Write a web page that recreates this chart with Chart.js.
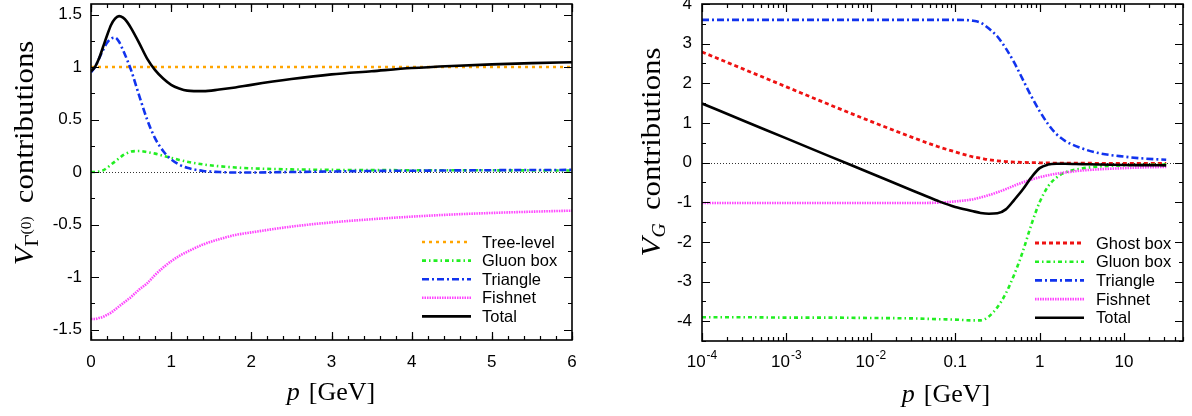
<!DOCTYPE html>
<html>
<head>
<meta charset="utf-8">
<script src="https://cdn.jsdelivr.net/npm/chart.js@4.4.0/dist/chart.umd.min.js"></script>
<style>
  html, body { margin: 0; padding: 0; background: #fff; }
  #wrap { position: relative; width: 1192px; height: 416px; }
  .panel { position: absolute; top: 0; width: 596px; height: 416px; }
</style>
</head>
<body>
<div id="wrap">
  <div class="panel" style="left:0"><canvas id="left" width="596" height="416"></canvas></div>
  <div class="panel" style="left:596px"><canvas id="right" width="596" height="416"></canvas></div>
</div>
<script>
// ---- left panel: V_Gamma(0) contributions, linear p axis ----
var pLeft = [0, 0.05, 0.1, 0.15, 0.2, 0.25, 0.3, 0.35, 0.4, 0.45, 0.5, 0.6, 0.7, 0.8, 0.9, 1.0, 1.1, 1.2, 1.4, 1.6, 1.8, 2.0, 2.5, 3, 3.5, 4, 4.5, 5, 5.5, 6];
var treeLevel = [1, 1, 1, 1, 1, 1, 1, 1, 1, 1, 1, 1, 1, 1, 1, 1, 1, 1, 1, 1, 1, 1, 1, 1, 1, 1, 1, 1, 1, 1];
var gluonLeft = [0, 0, 0.005, 0.015, 0.04, 0.07, 0.1, 0.13, 0.16, 0.18, 0.195, 0.2, 0.19, 0.175, 0.155, 0.135, 0.115, 0.098, 0.072, 0.055, 0.043, 0.035, 0.025, 0.02, 0.018, 0.017, 0.016, 0.016, 0.015, 0.015];
var triangleLeft = [0.95, 1.0, 1.08, 1.16, 1.23, 1.27, 1.28, 1.24, 1.16, 1.07, 0.97, 0.73, 0.5, 0.32, 0.2, 0.12, 0.07, 0.04, 0.01, 0.0, -0.005, -0.005, 0.0, 0.005, 0.01, 0.012, 0.015, 0.017, 0.019, 0.02];
var fishnetLeft = [-1.40, -1.40, -1.39, -1.38, -1.36, -1.34, -1.31, -1.28, -1.25, -1.22, -1.19, -1.12, -1.06, -0.98, -0.91, -0.85, -0.8, -0.76, -0.69, -0.64, -0.6, -0.575, -0.52, -0.48, -0.45, -0.425, -0.405, -0.39, -0.378, -0.368];
var totalLeft = [0.96, 1.0, 1.08, 1.19, 1.3, 1.4, 1.46, 1.485, 1.47, 1.43, 1.37, 1.23, 1.08, 0.97, 0.89, 0.83, 0.795, 0.775, 0.77, 0.785, 0.805, 0.83, 0.885, 0.93, 0.96, 0.99, 1.01, 1.025, 1.037, 1.045];
var xTicksLeft = [0, 1, 2, 3, 4, 5, 6];
var yTicksLeft = [-1.5, -1, -0.5, 0, 0.5, 1, 1.5];

// ---- right panel: V_G contributions, log p axis ----
var pRight = [1e-4, 3.16e-4, 1e-3, 3.16e-3, 1e-2, 3.16e-2, 6.3e-2, 0.1, 0.158, 0.2, 0.251, 0.316, 0.398, 0.501, 0.631, 0.794, 1, 1.26, 1.58, 2, 3.16, 5, 10, 17.8, 31.6];
var ghostBox = [2.79, 2.35, 1.91, 1.47, 1.04, 0.63, 0.4, 0.27, 0.15, 0.11, 0.07, 0.045, 0.025, 0.012, 0.005, 0, -0.005, -0.01, -0.012, -0.014, -0.016, -0.018, -0.02, -0.02, -0.02];
var gluonRight = [-3.9, -3.9, -3.91, -3.91, -3.92, -3.93, -3.95, -3.96, -3.98, -3.98, -3.88, -3.65, -3.3, -2.82, -2.25, -1.58, -1.0, -0.6, -0.38, -0.25, -0.15, -0.1, -0.07, -0.06, -0.05];
var triangleRight = [3.6, 3.6, 3.6, 3.6, 3.6, 3.6, 3.6, 3.6, 3.58, 3.53, 3.38, 3.18, 2.88, 2.52, 2.1, 1.68, 1.3, 0.97, 0.72, 0.55, 0.36, 0.24, 0.15, 0.1, 0.07];
var fishnetRight = [-1.02, -1.02, -1.02, -1.02, -1.02, -1.02, -1.01, -0.98, -0.93, -0.88, -0.82, -0.75, -0.67, -0.58, -0.5, -0.43, -0.37, -0.32, -0.28, -0.25, -0.2, -0.17, -0.14, -0.12, -0.11];
var totalRight = [1.49, 1.05, 0.61, 0.17, -0.27, -0.71, -0.97, -1.12, -1.22, -1.27, -1.29, -1.28, -1.18, -0.94, -0.68, -0.38, -0.14, -0.05, -0.03, -0.03, -0.04, -0.05, -0.06, -0.065, -0.07];
var xTicksRight = [1e-4, 1e-3, 1e-2, 0.1, 1, 10];
var xTickLabelsRight = ['10^-4', '10^-3', '10^-2', '0.1', '1', '10'];
var yTicksRight = [-4, -3, -2, -1, 0, 1, 2, 3, 4];

var SANS = '"Liberation Sans", Arial, sans-serif';
var SERIF = '"Liberation Serif", "Times New Roman", serif';
var tickFont = { family: SANS, size: 17 };

function pts(xs, ys) {
  return xs.map(function (x, i) { return { x: x, y: ys[i] }; });
}
function series(label, xs, ys, color, dash, width, order) {
  return {
    label: label, data: pts(xs, ys), borderColor: color, backgroundColor: color,
    borderDash: dash, borderWidth: width, order: order, fill: false,
    pointRadius: 0, cubicInterpolationMode: 'monotone'
  };
}
function range(a, b, step) {
  var out = [];
  for (var v = a; v <= b + 1e-9; v += step) out.push(Math.round(v * 1000) / 1000);
  return out;
}

// frame, inward ticks on all four sides, dotted zero line
var axisDecor = {
  id: 'axisDecor',
  beforeDatasetsDraw: function (chart) {
    var a = chart.chartArea, ctx = chart.ctx;
    var y0 = Math.round(chart.scales.y.getPixelForValue(0)) + 0.5;
    ctx.save();
    ctx.strokeStyle = '#333'; ctx.lineWidth = 1; ctx.setLineDash([1, 2]);
    ctx.beginPath(); ctx.moveTo(a.left, y0); ctx.lineTo(a.right, y0); ctx.stroke();
    ctx.restore();
  },
  afterDatasetsDraw: function (chart, args, o) {
    var a = chart.chartArea, ctx = chart.ctx, xs = chart.scales.x, ys = chart.scales.y;
    ctx.save();
    ctx.setLineDash([]);
    ctx.strokeStyle = '#000';
    ctx.lineWidth = 1.2;
    function xt(vals, len) {
      vals.forEach(function (v) {
        var px = Math.round(xs.getPixelForValue(v)) + 0.5;
        ctx.beginPath();
        ctx.moveTo(px, a.bottom); ctx.lineTo(px, a.bottom - len);
        ctx.moveTo(px, a.top); ctx.lineTo(px, a.top + len);
        ctx.stroke();
      });
    }
    function yt(vals, len) {
      vals.forEach(function (v) {
        var py = Math.round(ys.getPixelForValue(v)) + 0.5;
        ctx.beginPath();
        ctx.moveTo(a.left, py); ctx.lineTo(a.left + len, py);
        ctx.moveTo(a.right, py); ctx.lineTo(a.right - len, py);
        ctx.stroke();
      });
    }
    xt(o.xMinor, 4); xt(o.xMajor, 8);
    yt(o.yMinor, 4); yt(o.yMajor, 8);
    ctx.lineWidth = 1.6;
    ctx.strokeRect(a.left, a.top, a.right - a.left, a.bottom - a.top);
    // log-axis labels with superscript exponents
    if (o.logLabels) {
      o.logLabels.values.forEach(function (v, i) {
        var txt = o.logLabels.labels[i].split('^');
        var px = xs.getPixelForValue(v);
        ctx.fillStyle = '#000'; ctx.textAlign = 'left'; ctx.textBaseline = 'alphabetic';
        ctx.font = '17px ' + SANS;
        var w1 = ctx.measureText(txt[0]).width, w2 = 0;
        if (txt[1]) { ctx.font = '12px ' + SANS; w2 = ctx.measureText(txt[1]).width + 1; }
        var x = px - (w1 + w2) / 2;
        ctx.font = '17px ' + SANS;
        ctx.fillText(txt[0], x, o.logLabels.baseline);
        if (txt[1]) {
          ctx.font = '12px ' + SANS;
          ctx.fillText(txt[1], x + w1 + 1, o.logLabels.baseline - 8);
        }
      });
    }
    ctx.restore();
  }
};

// gnuplot-style key inside the plot, line sample then text
var gpLegend = {
  id: 'gpLegend',
  afterDraw: function (chart, args, o) {
    var ctx = chart.ctx;
    chart.data.datasets.forEach(function (ds, i) {
      var y = o.top + i * o.rowGap;
      ctx.save();
      ctx.strokeStyle = ds.borderColor; ctx.lineWidth = ds.borderWidth;
      ctx.setLineDash(ds.borderDash || []);
      ctx.beginPath(); ctx.moveTo(o.x0, y); ctx.lineTo(o.x1, y); ctx.stroke();
      ctx.setLineDash([]);
      ctx.fillStyle = '#000'; ctx.font = '16.5px ' + SANS;
      ctx.textAlign = 'left'; ctx.textBaseline = 'middle';
      ctx.fillText(ds.label, o.textX, y + 1);
      ctx.restore();
    });
  }
};

function drawRuns(ctx, runs, cx, cy, rot, stretch) {
  ctx.save();
  ctx.translate(cx, cy); ctx.rotate(rot); ctx.scale(stretch || 1, 1);
  var w = 0;
  runs.forEach(function (r) { ctx.font = r.font; r.w = ctx.measureText(r.text).width; w += r.w + (r.gap || 0); });
  var x = -w / 2;
  ctx.fillStyle = '#000'; ctx.textAlign = 'left'; ctx.textBaseline = 'alphabetic';
  runs.forEach(function (r) { ctx.font = r.font; ctx.fillText(r.text, x, r.dy || 0); x += r.w + (r.gap || 0); });
  ctx.restore();
}

// axis titles with italic / subscript pieces
var mathTitles = {
  id: 'mathTitles',
  afterDraw: function (chart, args, o) {
    drawRuns(chart.ctx, o.xRuns, o.xCenter, o.xBaseline, 0, 1);
    drawRuns(chart.ctx, o.yRuns, o.yBaseline, o.yCenter, -Math.PI / 2, 1.1);
  }
};

var xTitleRuns = [
  { text: 'p', font: 'italic 26px ' + SERIF, gap: 9 },
  { text: '[GeV]', font: '26px ' + SERIF }
];

function noPad(s) { s.paddingTop = 0; s.paddingBottom = 0; s.paddingLeft = 0; s.paddingRight = 0; }

function makeChart(id, c) {
  return new Chart(document.getElementById(id), {
    type: 'line',
    data: { datasets: c.datasets },
    options: {
      responsive: false, animation: false, devicePixelRatio: 1,
      layout: { padding: { left: 0, right: c.padRight, top: 4, bottom: 0 } },
      plugins: {
        legend: { display: false }, tooltip: { enabled: false },
        axisDecor: c.decor, gpLegend: c.legend, mathTitles: c.titles
      },
      scales: { x: c.x, y: c.y }
    },
    plugins: [axisDecor, gpLegend, mathTitles]
  });
}

makeChart('left', {
  padRight: 24,
  datasets: [
    series('Tree-level', pLeft, treeLevel, '#ffa500', [3, 4], 2.6, 4),
    series('Gluon box', pLeft, gluonLeft, '#22ee22', [4, 3, 1.5, 3], 2.6, 3),
    series('Triangle', pLeft, triangleLeft, '#1133ee', [7, 3, 2, 3], 2.6, 2),
    series('Fishnet', pLeft, fishnetLeft, '#ff44ff', [1.5, 1], 2.6, 1),
    series('Total', pLeft, totalLeft, '#000000', [], 2.6, 0)
  ],
  x: {
    type: 'linear', min: 0, max: 6,
    grid: { display: false, drawTicks: false }, border: { display: false },
    afterBuildTicks: function (s) { s.ticks = xTicksLeft.map(function (v) { return { value: v }; }); },
    afterFit: function (s) { s.height = 76; noPad(s); },
    ticks: { color: '#000', font: tickFont, padding: 12, maxRotation: 0, autoSkip: false,
             callback: function (v) { return String(v); } }
  },
  y: {
    type: 'linear', min: -1.6, max: 1.6,
    grid: { display: false, drawTicks: false }, border: { display: false },
    afterBuildTicks: function (s) { s.ticks = yTicksLeft.map(function (v) { return { value: v }; }); },
    afterFit: function (s) { s.width = 91; noPad(s); },
    ticks: { color: '#000', font: tickFont, padding: 9, autoSkip: false,
             callback: function (v) { return String(v); } }
  },
  decor: { xMajor: xTicksLeft, xMinor: range(0, 6, 0.2), yMajor: yTicksLeft, yMinor: range(-1.5, 1.5, 0.25) },
  legend: { x0: 422, x1: 471, textX: 482, top: 242, rowGap: 18.6 },
  titles: {
    xRuns: xTitleRuns, xCenter: 331, xBaseline: 400,
    yRuns: [
      { text: 'V', font: 'italic 28px ' + SERIF },
      { text: 'Γ', font: '19px ' + SERIF, dy: 5 },
      { text: '(0)', font: '14px ' + SERIF, dy: -2, gap: 12 },
      { text: 'contributions', font: '28px ' + SERIF }
    ],
    yBaseline: 33, yCenter: 153
  }
});

var logMinor = [];
[1e-4, 1e-3, 1e-2, 0.1, 1, 10].forEach(function (d) {
  for (var m = 2; m <= 9; m++) { if (d * m <= 50) logMinor.push(d * m); }
});

makeChart('right', {
  padRight: 9,
  datasets: [
    series('Ghost box', pRight, ghostBox, '#ee1111', [4, 3], 2.8, 4),
    series('Gluon box', pRight, gluonRight, '#22ee22', [4, 3, 1.5, 3], 2.6, 3),
    series('Triangle', pRight, triangleRight, '#1133ee', [7, 3, 2, 3], 2.6, 2),
    series('Fishnet', pRight, fishnetRight, '#ff44ff', [1.5, 1], 2.6, 1),
    series('Total', pRight, totalRight, '#000000', [], 2.6, 0)
  ],
  x: {
    type: 'logarithmic', min: 1e-4, max: 50,
    grid: { display: false, drawTicks: false }, border: { display: false },
    afterFit: function (s) { s.height = 75; noPad(s); },
    ticks: { display: false }
  },
  y: {
    type: 'linear', min: -4.5, max: 4,
    grid: { display: false, drawTicks: false }, border: { display: false },
    afterBuildTicks: function (s) { s.ticks = yTicksRight.map(function (v) { return { value: v }; }); },
    afterFit: function (s) { s.width = 106; noPad(s); },
    ticks: { color: '#000', font: tickFont, padding: 10, autoSkip: false,
             callback: function (v) { return String(v); } }
  },
  decor: {
    xMajor: xTicksRight, xMinor: logMinor, yMajor: yTicksRight, yMinor: range(-4.5, 4, 0.5),
    logLabels: { values: xTicksRight, labels: xTickLabelsRight, baseline: 367 }
  },
  legend: { x0: 439, x1: 488, textX: 500, top: 243, rowGap: 18.7 },
  titles: {
    xRuns: xTitleRuns, xCenter: 350, xBaseline: 402,
    yRuns: [
      { text: 'V', font: 'italic 28px ' + SERIF },
      { text: 'G', font: 'italic 18px ' + SERIF, dy: 5, gap: 12 },
      { text: 'contributions', font: '28px ' + SERIF }
    ],
    yBaseline: 64, yCenter: 152
  }
});
</script>
</body>
</html>
